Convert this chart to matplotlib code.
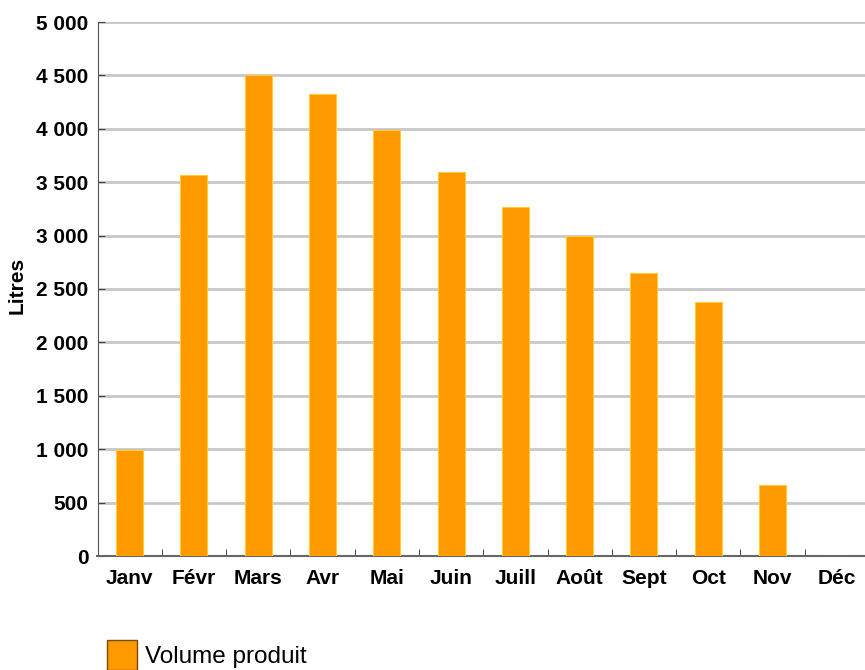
import matplotlib.pyplot as plt
from matplotlib.patches import Patch
from matplotlib.ticker import FuncFormatter, FixedLocator
import numpy as np

plt.rcParams['font.family'] = ['Liberation Sans', 'DejaVu Sans']

months = ["Janv", "Févr", "Mars", "Avr", "Mai", "Juin",
          "Juill", "Août", "Sept", "Oct", "Nov", "Déc"]
volume = [990, 3570, 4500, 4330, 3990, 3600, 3270, 2995, 2650, 2380, 665, 0]
yticks = [0, 500, 1000, 1500, 2000, 2500, 3000, 3500, 4000, 4500, 5000]

W, H = 865, 670
fig = plt.figure(figsize=(W / 100, H / 100), dpi=100)
left, right, bottom, top = 97.5, 869, 556, 22
ax = fig.add_axes([left / W, 1 - bottom / H, (right - left) / W, (bottom - top) / H])

x = np.arange(len(months))
ax.bar(x, volume, width=0.42, color="#ff9900", edgecolor="#ffcc33", linewidth=0.8, zorder=3)

ax.set_xlim(-0.5, len(months) - 0.5)
ax.set_ylim(0, 5000)
ax.set_yticks(yticks)
ax.yaxis.set_major_formatter(FuncFormatter(lambda v, p: f"{int(v):,}".replace(",", " ")))
ax.grid(axis="y", color="#c8c8c8", linewidth=2, zorder=0)

ax.set_xticks(x)
ax.set_xticklabels(months)
ax.xaxis.set_minor_locator(FixedLocator(x[:-1] + 0.5))
ax.tick_params(axis="x", which="major", length=0, pad=9)
ax.tick_params(axis="x", which="minor", direction="in", length=5, color="#222222")
ax.tick_params(axis="y", direction="in", length=5, color="#444444", pad=6.5)
for lab in ax.get_xticklabels() + ax.get_yticklabels():
    lab.set_fontweight("bold")
    lab.set_fontsize(15)

ax.spines["top"].set_visible(False)
ax.spines["right"].set_visible(False)
ax.spines["left"].set_color("#555555")
ax.spines["bottom"].set_color("#666666")
ax.spines["bottom"].set_linewidth(1.5)

fig.text(17 / W, 1 - 285 / H, "Litres", rotation=90, fontsize=15,
         fontweight="bold", ha="center", va="center")

handle = Patch(facecolor="#ff9900", edgecolor="#7a4a00", linewidth=1)
fig.legend([handle], ["Volume produit"], loc="upper left",
           bbox_to_anchor=(107 / W, 1 - 640 / H), frameon=False, fontsize=17.5,
           handlelength=1.25, handleheight=1.5, handletextpad=0.3,
           borderpad=0, borderaxespad=0)

fig.savefig("out.png", dpi=100)
